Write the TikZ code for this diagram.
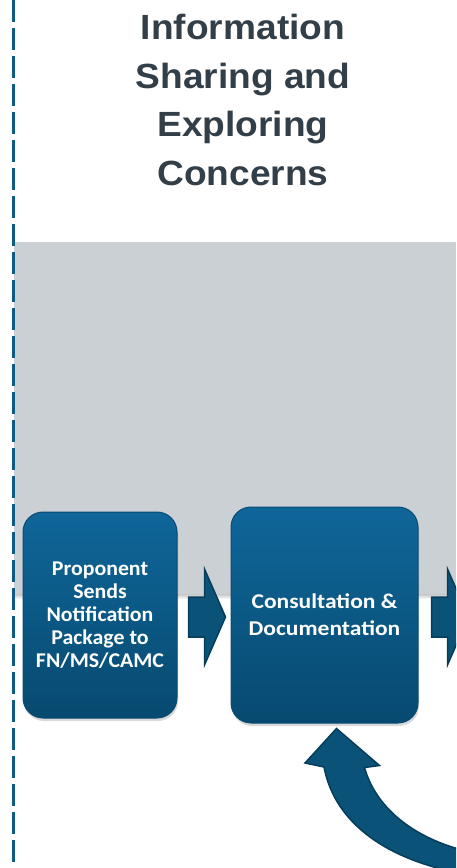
\documentclass[tikz,border=0pt]{standalone}
\usepackage{fontspec}
\setmainfont{Liberation Sans}
\newfontfamily\headfont[FakeStretch=1.06]{Liberation Sans}
\newfontfamily\stepfont[FakeStretch=1.04]{Carlito}
\newfontfamily\widestepfont[FakeStretch=1.12]{Carlito}
\usetikzlibrary{positioning,calc,shadows}

\definecolor{titlegray}{HTML}{333F48}
\definecolor{bandgray}{HTML}{CBD0D4}
\definecolor{dashblue}{HTML}{0E5C86}
\definecolor{boxtop}{HTML}{0F6699}
\definecolor{boxbottom}{HTML}{074A70}
\definecolor{boxedge}{HTML}{0A4C74}
\definecolor{arrowfill}{HTML}{0B5278}
\definecolor{arrowedge}{HTML}{063D5B}

\newcommand\flowarrow[1]{\draw[blockarrow] (#1) ++(0,-20) -- ++(16,0) -- ++(0,-28)
  -- ++(21,48) -- ++(-21,48) -- ++(0,-28) -- ++(-16,0) -- cycle;}

\begin{document}
\begin{tikzpicture}[x=1pt,y=-1pt,
  title/.style={text=titlegray, align=center, font=\headfont\bfseries\fontsize{35}{48.5}\selectfont},
  stepbox/.style={rounded corners=20pt, draw=boxedge, line width=1pt, inner sep=2pt,
    top color=boxtop, bottom color=boxbottom, text=white, align=center,
    font=\stepfont\bfseries\fontsize{21}{23}\selectfont,
    drop shadow={opacity=0.3, shadow xshift=1pt, shadow yshift=-3pt}},
  blockarrow/.style={fill=arrowfill, draw=arrowedge, line width=1.5pt, line join=miter}]
\useasboundingbox (0,0) rectangle (456,868);
\clip (0,0) rectangle (456,868);
\fill[bandgray] (14,242) rectangle (456,594);
\shade[top color=gray!45, bottom color=white] (14,594) rectangle (456,599);
\draw[dashblue, line width=3pt, dash pattern=on 22pt off 6pt] (13,0) -- (13,868);
\node[title] (heading) at (243,100) {Information\\Sharing and\\Exploring\\Concerns};
\node[stepbox, minimum width=154pt, minimum height=206pt] (notify) at (100,615)
  {Proponent\\Sends\\Notification\\Package to\\FN/MS/CAMC};
\node[stepbox, minimum width=187pt, minimum height=216pt, right=53pt of notify,
  font=\widestepfont\bfseries\fontsize{21}{23}\selectfont] (consult)
  {Consultation \&\\[4pt]Documentation};
\coordinate (gap1) at ($(notify.east)+(11,2)$);
\coordinate (gap2) at ($(consult.east)+(13,2)$);
\flowarrow{gap1}
\flowarrow{gap2}
\coordinate (tip) at ($(consult.south)+(12,5)$);
\coordinate (loopin) at (470,864);
\draw[blockarrow] (tip) -- ++(43,37) -- ++(-15,2)
  .. controls (375,805) and (410,838) .. ($(loopin)+(0,-12)$)
  -- ($(loopin)+(0,11)$) .. controls (390,862) and (335,825) .. (324,767)
  -- (305,763) -- cycle;
\end{tikzpicture}
\end{document}
